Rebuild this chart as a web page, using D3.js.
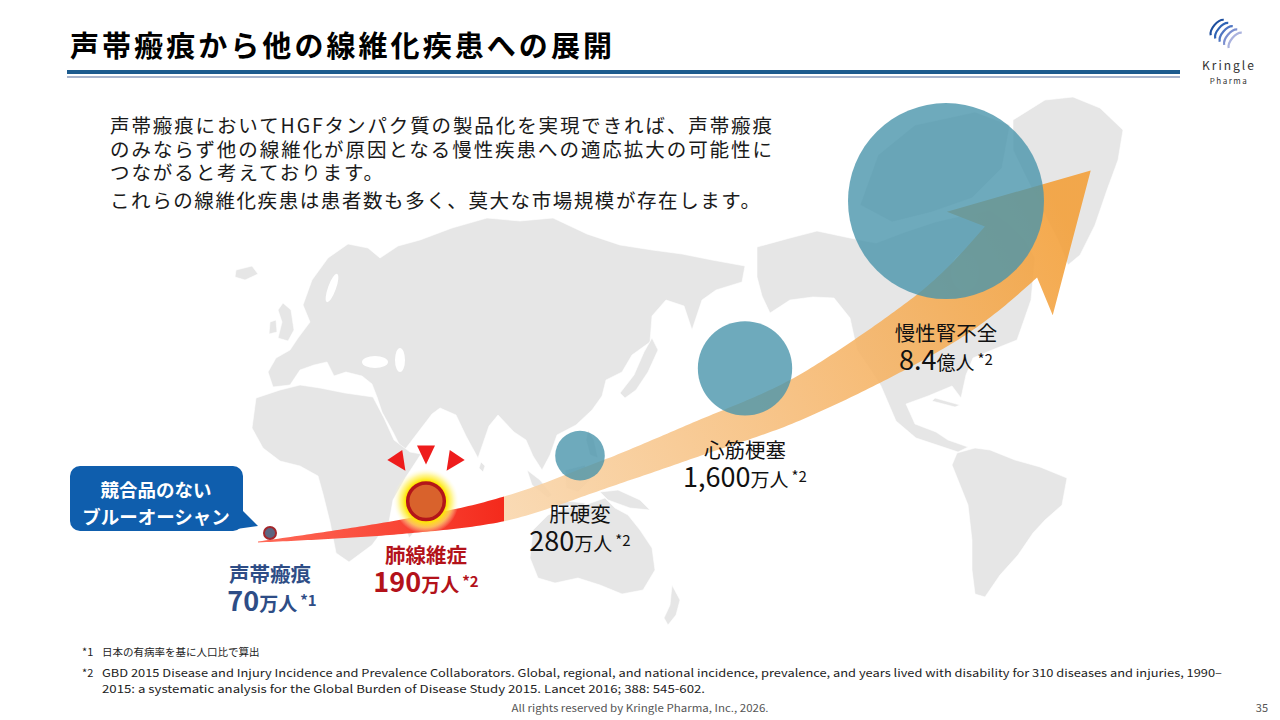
<!DOCTYPE html>
<html><head><meta charset="utf-8">
<script src="https://cdn.jsdelivr.net/npm/d3@7/dist/d3.min.js"></script>
<style>
body{margin:0;background:#fff}
svg{display:block}
text{font-family:"Noto Sans CJK JP","Noto Sans",sans-serif}
</style>
</head><body>
<svg id="c" width="1280" height="720"></svg>
<script>
// ---------- data ----------
const diseases    = ["声帯瘢痕","肺線維症","肝硬変","心筋梗塞","慢性腎不全"];
const patientsMan = [70, 190, 280, 1600, 84000];          // 患者数（万人）
const valueText   = ["70","190","280","1,600","8.4"];
const unitText    = ["万人","万人","万人","万人","億人"];
const noteRefs    = ["*1","*2","*2","*2","*2"];
const titleText   = "声帯瘢痕から他の線維化疾患への展開";
const bodyLines   = [
  "声帯瘢痕においてHGFタンパク質の製品化を実現できれば、声帯瘢痕",
  "のみならず他の線維化が原因となる慢性疾患への適応拡大の可能性に",
  "つながると考えております。",
  "これらの線維化疾患は患者数も多く、莫大な市場規模が存在します。"
];
const calloutLines = ["競合品のない","ブルーオーシャン"];
const footMarks = ["*1","*2",""];
const footTexts = [
  "日本の有病率を基に人口比で算出",
  "GBD 2015 Disease and Injury Incidence and Prevalence Collaborators. Global, regional, and national incidence, prevalence, and years lived with disability for 310 diseases and injuries, 1990–",
  "2015: a systematic analysis for the Global Burden of Disease Study 2015. Lancet 2016; 388: 545-602."
];
const copyright = "All rights reserved by Kringle Pharma, Inc., 2026.";
const pageNo = "35";

// ---------- styles / layout ----------
const labelColor  = ["#2e4d86","#b3121a","#111","#111","#111"];
const labelWeight = [700,700,400,400,400];
const stageX = d3.scaleOrdinal(diseases, [270,426,580,745,946]);
const rScale = d3.scaleLog().domain([70,84000]).range([7,98]);

const svg = d3.select("#c");
const defs = svg.append("defs");

// ---------- background map (decorative) ----------
const land = [
 [[273,387],[268,372],[276,358],[290,350],[298,338],[310,322],[303,305],[312,280],[328,258],[348,244],[368,248],[380,258],[398,246],[420,240],[452,228],[487,218],[520,221],[553,218],[587,234],[620,245],[652,250],[682,254],[712,260],[745,266],[742,282],[716,290],[702,300],[692,330],[684,306],[666,300],[652,316],[650,342],[632,355],[622,372],[606,380],[602,396],[592,410],[576,425],[557,435],[550,455],[542,470],[533,456],[526,440],[514,432],[498,415],[489,426],[478,458],[466,436],[456,415],[440,408],[432,414],[403,452],[393,432],[382,412],[377,397],[372,384],[362,376],[346,372],[334,376],[327,362],[314,365],[300,370],[290,385]],
 [[256,398],[280,390],[300,385],[320,388],[345,393],[373,397],[384,418],[394,440],[410,452],[421,454],[406,477],[393,500],[389,522],[372,545],[349,562],[336,553],[330,522],[323,494],[318,476],[300,466],[280,461],[263,448],[252,428]],
 [[414,505],[420,510],[416,530],[409,538],[406,528],[409,512]],
 [[533,530],[548,515],[566,508],[585,505],[605,498],[615,508],[628,515],[640,530],[652,548],[655,570],[643,590],[622,594],[600,585],[578,578],[555,583],[538,578],[530,558]],
 [[672,585],[680,600],[676,615],[668,625],[664,618],[670,605]],
 [[600,492],[618,490],[640,500],[650,510],[630,508],[608,500]],
 [[527,470],[540,480],[552,495],[548,498],[532,485]],
 [[565,470],[585,465],[590,480],[578,492],[566,488]],
 [[555,500],[585,503],[584,507],[556,505]],
 [[588,430],[594,440],[598,458],[590,455],[586,440]],
 [[652,338],[658,350],[648,372],[636,390],[625,398],[620,393],[634,375],[644,352]],
 [[283,303],[291,310],[294,330],[288,341],[278,338],[282,322],[278,310]],
 [[270,322],[276,320],[277,332],[269,334]],
 [[236,270],[252,266],[258,274],[245,280],[235,277]],
 [[481,462],[485,466],[483,472],[479,468]],
 [[757,247],[790,238],[817,231],[850,238],[876,243],[905,232],[935,222],[965,215],[990,210],[1010,225],[1025,240],[1035,258],[1031,300],[1023,323],[1017,340],[992,350],[973,358],[966,375],[961,398],[952,386],[928,396],[906,404],[915,424],[936,432],[948,440],[968,447],[958,452],[940,446],[916,438],[896,421],[881,386],[872,372],[857,350],[850,318],[834,298],[813,297],[790,300],[770,313],[762,296],[757,277]],
 [[860,205],[878,155],[915,125],[975,112],[1010,125],[1002,168],[972,198],[932,212],[892,222]],
 [[1013,120],[1045,100],[1073,97],[1100,108],[1123,130],[1118,160],[1107,190],[1095,225],[1080,255],[1068,265],[1058,240],[1040,205],[1025,175],[1013,150]],
 [[957,453],[975,448],[990,450],[1015,460],[1040,467],[1067,478],[1062,505],[1045,520],[1033,533],[1018,555],[1000,575],[985,597],[975,594],[972,570],[972,540],[968,505],[958,480],[952,465]],
 [[935,398],[960,405],[955,407],[932,401]]
];
const mapG = svg.append("g");
mapG.selectAll("path.land").data(land).join("path")
  .attr("d", d3.line().curve(d3.curveLinearClosed))
  .attr("fill","#e6e6e6").attr("stroke","#fff").attr("stroke-width",0.6).attr("stroke-linejoin","round");
const seas = [[375,362,13,6,0],[400,360,5,12,0],[332,288,4,15,20],[965,272,14,19,0]];
mapG.selectAll("ellipse").data(seas).join("ellipse")
  .attr("cx",d=>d[0]).attr("cy",d=>d[1]).attr("rx",d=>d[2]).attr("ry",d=>d[3])
  .attr("transform",d=>`rotate(${d[4]},${d[0]},${d[1]})`).attr("fill","#fff");

// ---------- header ----------
svg.append("text").attr("x",70).attr("y",57).attr("font-size",29).attr("font-weight",700)
  .attr("fill","#000").attr("textLength",542).attr("lengthAdjust","spacing").text(titleText);
svg.append("rect").attr("x",67).attr("y",70).attr("width",1113).attr("height",4).attr("fill","#1c5b8e");
svg.append("rect").attr("x",67).attr("y",76).attr("width",1113).attr("height",2).attr("fill","#a9b5cd");

// logo
const logoCols = ["#1d4e9e","#2f63b5","#4f75c2","#7b8fd0","#aab2de"];
const logo = svg.append("g");
logoCols.forEach((c,i)=>{
  const cx=1219+i*4.5, cy=29+i*3.2;
  logo.append("ellipse").attr("cx",cx).attr("cy",cy).attr("rx",6).attr("ry",11)
    .attr("transform",`rotate(40,${cx},${cy})`).attr("fill","none").attr("stroke",c)
    .attr("stroke-width",2.2).attr("stroke-dasharray","22 40").attr("stroke-dashoffset",-16);
});
const logoT = svg.append("text").attr("text-anchor","middle").attr("fill","#333").attr("font-family","DejaVu Sans");
logoT.append("tspan").attr("x",1229).attr("y",70).attr("font-size",12).attr("letter-spacing",2).text("Kringle");
logoT.append("tspan").attr("x",1229).attr("y",84).attr("font-size",8).attr("letter-spacing",1.5).text("Pharma");

// ---------- body text (one text block, one tspan per line) ----------
const bodyY = [133,157,180,208];
const bodyLen = [662,662,273,650];
const body = svg.append("text").attr("font-size",19.5).attr("fill","#1a1a1a");
bodyLines.forEach((t,i)=>{
  body.append("tspan").attr("x",110).attr("y",bodyY[i])
    .attr("textLength",bodyLen[i]).attr("lengthAdjust","spacing").text(t);
});

// ---------- arrow ----------
const centerPts = [[258,542],[400,527],[504,509],[600,476],[700,438],[800,398],[933,320],[975,287],[1011,252]];
const guide = svg.append("path").attr("d", d3.line().curve(d3.curveCatmullRom.alpha(0.5))(centerPts))
  .attr("fill","none").attr("stroke","none");
const gnode = guide.node();
const L = gnode.getTotalLength();
const widthScale = d3.scaleLinear().domain([0,0.3,0.45,0.7,1]).range([1,24,28,42,73]);
const upper=[], lower=[], samples=[];
const NS=200;
function frame(len){
  const p = gnode.getPointAtLength(len);
  const a = gnode.getPointAtLength(Math.max(0,len-1)), b = gnode.getPointAtLength(Math.min(L,len+1));
  let tx=b.x-a.x, ty=b.y-a.y; const m=Math.hypot(tx,ty); tx/=m; ty/=m;
  return {p, t:[tx,ty], n:[ty,-tx]};
}
for(let i=0;i<=NS;i++){
  const s=i/NS, f=frame(s*L), w=widthScale(s)/2;
  upper.push([f.p.x+f.n[0]*w, f.p.y+f.n[1]*w]);
  lower.push([f.p.x-f.n[0]*w, f.p.y-f.n[1]*w]);
  samples.push([f.p.x,f.p.y]);
}
const ef = frame(L), E=[ef.p.x,ef.p.y];
const headLen=114, headBack=16, headHalf=74;
const tip=[E[0]+ef.t[0]*headLen, E[1]+ef.t[1]*headLen];
const barbL=[E[0]-ef.t[0]*headBack+ef.n[0]*headHalf, E[1]-ef.t[1]*headBack+ef.n[1]*headHalf];
const barbR=[E[0]-ef.t[0]*headBack-ef.n[0]*headHalf, E[1]-ef.t[1]*headBack-ef.n[1]*headHalf];
const arrowPoly = upper.concat([barbL,tip,barbR], lower.slice().reverse());
function arrowY(x){
  for(let i=1;i<samples.length;i++){
    if(samples[i][0]>=x){const a=samples[i-1],b=samples[i];const k=(x-a[0])/((b[0]-a[0])||1);return a[1]+k*(b[1]-a[1]);}
  }
  return samples[samples.length-1][1];
}
const splitX = 504;
const rg = defs.append("linearGradient").attr("id","redG").attr("gradientUnits","userSpaceOnUse")
  .attr("x1",258).attr("y1",540).attr("x2",splitX).attr("y2",510);
rg.append("stop").attr("offset",0).attr("stop-color","#ff6a58");
rg.append("stop").attr("offset",1).attr("stop-color","#f42a1c");
const og = defs.append("linearGradient").attr("id","orG").attr("gradientUnits","userSpaceOnUse")
  .attr("x1",splitX).attr("y1",512).attr("x2",1060).attr("y2",210);
og.append("stop").attr("offset",0).attr("stop-color","#f9d6ac");
og.append("stop").attr("offset",0.5).attr("stop-color","#f6bb76");
og.append("stop").attr("offset",1).attr("stop-color","#f3a03a");
defs.append("clipPath").attr("id","clipR").append("rect").attr("x",0).attr("y",0).attr("width",splitX).attr("height",720);
defs.append("clipPath").attr("id","clipO").append("rect").attr("x",splitX).attr("y",0).attr("width",1280-splitX).attr("height",720);
const polyD = "M"+arrowPoly.map(p=>p.join(",")).join("L")+"Z";
svg.append("path").attr("d",polyD).attr("fill","url(#orG)").attr("opacity",0.9).attr("clip-path","url(#clipO)");
svg.append("path").attr("d",polyD).attr("fill","url(#redG)").attr("clip-path","url(#clipR)");

// ---------- bubbles ----------
const stages = diseases.map((d,i)=>{
  const r = rScale(patientsMan[i]);
  const cx = stageX(d);
  const cy = arrowY(cx) - r*1.12;
  return {d,i,r,cx,cy};
});
const glow = defs.append("radialGradient").attr("id","glowG");
glow.append("stop").attr("offset",0).attr("stop-color","#ffe600").attr("stop-opacity",1);
glow.append("stop").attr("offset",0.62).attr("stop-color","#ffe600").attr("stop-opacity",1);
glow.append("stop").attr("offset",0.8).attr("stop-color","#fff26a").attr("stop-opacity",0.7);
glow.append("stop").attr("offset",1).attr("stop-color","#fffbe0").attr("stop-opacity",0);

const big = stages.filter(s=>s.i>=2);
svg.selectAll("circle.bub").data(big).join("circle").attr("class","bub")
  .attr("cx",s=>s.cx).attr("cy",s=>s.cy).attr("r",s=>s.r)
  .attr("fill","#4a95ab").attr("opacity",0.8);

const lung = stages[1];
svg.append("circle").attr("cx",lung.cx).attr("cy",lung.cy).attr("r",lung.r+13).attr("fill","url(#glowG)");
svg.append("circle").attr("cx",lung.cx).attr("cy",lung.cy).attr("r",lung.r-1.5)
  .attr("fill","#d9622c").attr("stroke","#b3151a").attr("stroke-width",3.5);
const tri = svg.append("g");
[-124,-90,-56].forEach(a=>{
  const rad=a*Math.PI/180, dist=lung.r+27;
  const cx=lung.cx+Math.cos(rad)*dist, cy=lung.cy+Math.sin(rad)*dist;
  tri.append("path").attr("d","M-9,-9L9,-9L0,10Z").attr("fill","#ee1c1c")
    .attr("transform",`translate(${cx},${cy}) rotate(${a+90})`);
});
const vf = stages[0];
svg.append("circle").attr("cx",vf.cx).attr("cy",vf.cy).attr("r",vf.r-1)
  .attr("fill","#5b6580").attr("stroke","#a3262b").attr("stroke-width",2);

// ---------- callout ----------
svg.append("path").attr("d","M232,500L258,526L222,531Z").attr("fill","#0f5ead");
svg.append("rect").attr("x",70).attr("y",466).attr("width",173).attr("height",65).attr("rx",10).attr("fill","#0f5ead");
const co = svg.append("text").attr("text-anchor","middle").attr("font-size",18.5)
  .attr("font-weight",700).attr("fill","#fff");
calloutLines.forEach((t,i)=>{
  co.append("tspan").attr("x",156).attr("y",497+i*27).text(t);
});

// ---------- labels (name + value in one text block) ----------
stages.forEach(s=>{
  const base = s.cy + s.r;
  const t = svg.append("text").attr("text-anchor","middle")
    .attr("fill",labelColor[s.i]).attr("font-weight",labelWeight[s.i]);
  t.append("tspan").attr("x",s.cx).attr("y",base+42).attr("font-size",20.5).text(s.d);
  t.append("tspan").attr("x",s.cx+(s.i===0?2:0)).attr("y",base+71).attr("font-size",27).text(valueText[s.i]);
  t.append("tspan").attr("font-size",19).text(unitText[s.i]);
  t.append("tspan").attr("font-size",15).attr("dx",3).attr("dy",-5).text(noteRefs[s.i]);
});

// ---------- footnotes ----------
const footY=[656,677,693], footLen=[null,1120,603];
footTexts.forEach((t,i)=>{
  if(footMarks[i]) svg.append("text").attr("x",82).attr("y",footY[i]).attr("font-size",11).attr("fill","#222")
    .attr("font-family","Liberation Sans").text(footMarks[i]);
  const el=svg.append("text").attr("x",102).attr("y",footY[i]).attr("font-size",i===0?10.5:11).attr("fill","#222")
    .attr("font-family", i===0?"Noto Sans CJK JP":"Liberation Sans Narrow, Liberation Sans").text(t);
  if(footLen[i]) el.attr("textLength",footLen[i]).attr("lengthAdjust","spacingAndGlyphs");
});
svg.append("text").attr("x",640).attr("y",712).attr("text-anchor","middle").attr("font-size",10).attr("fill","#555")
  .attr("font-family","Liberation Sans").attr("textLength",257).attr("lengthAdjust","spacingAndGlyphs").text(copyright);
svg.append("text").attr("x",1268).attr("y",712).attr("text-anchor","end").attr("font-size",11).attr("fill","#555")
  .attr("font-family","Liberation Sans").text(pageNo);
</script>
</body></html>
